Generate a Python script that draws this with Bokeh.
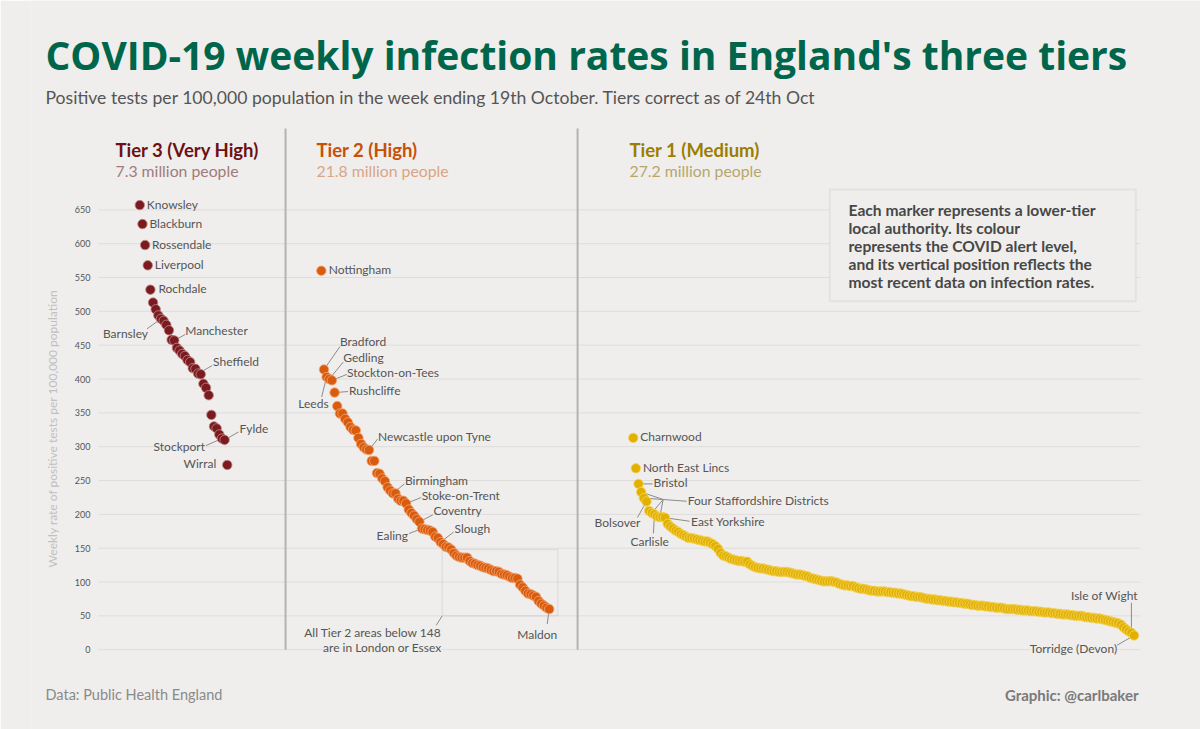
import numpy as np
from math import pi
from bokeh.plotting import figure
from bokeh.models import Label, BoxAnnotation, FixedTicker, Range1d
from bokeh.embed import file_html
from bokeh.resources import INLINE

# ---------------- data ----------------
tier3_values = [657, 629, 598, 568, 532, 513, 503, 494, 489, 486, 480, 472, 458, 457, 446, 442, 437,
                434, 428, 425, 416, 415, 408, 407, 393, 387, 376, 347, 330, 327, 318, 312, 310, 273]
tier2_values = [560, 414, 403, 400, 398, 380, 360, 349, 349, 341, 336, 329, 325, 324, 313, 304, 299,
                296, 295, 279, 279, 261, 260, 253, 249, 240, 235, 231, 231, 223, 220, 220, 216, 207,
                202, 198, 193, 189, 179, 178, 177, 176, 174, 167, 165, 159, 156, 152, 151, 148, 143,
                139, 137, 136, 136, 136, 131, 128, 127, 125, 124, 122, 121, 120, 118, 116, 116, 115,
                112, 111, 110, 108, 106, 106, 105, 96, 92, 87, 83, 82, 80, 78, 72, 68, 65, 62, 60]
tier1_values = [313, 268, 245, 233, 224, 219, 205, 202, 200, 197,
                196, 196, 195, 186, 182, 179, 176, 174, 171, 169,
                167, 165, 165, 164, 163, 162, 161, 160, 160, 158,
                156, 153, 149, 143, 139, 138, 136, 134, 133, 132,
                131, 131, 130, 130, 126, 124, 122, 121, 120, 120,
                119, 118, 117, 116, 116, 115, 115, 115, 115, 114,
                113, 112, 111, 111, 110, 109, 108, 106, 105, 104,
                103, 102, 101, 101, 101, 101, 100, 99, 97, 96,
                95, 95, 94, 94, 92, 91, 90, 90, 89, 88,
                87, 87, 86, 86, 86, 86, 85, 85, 84, 84,
                83, 83, 82, 81, 80, 79, 79, 78, 78, 77,
                76, 75, 75, 74, 74, 73, 73, 72, 72, 71,
                71, 70, 70, 69, 69, 68, 68, 67, 66, 66,
                65, 65, 65, 64, 64, 63, 63, 62, 62, 62,
                61, 60, 60, 60, 60, 59, 59, 58, 58, 58,
                57, 57, 57, 56, 56, 55, 55, 55, 54, 54,
                53, 53, 52, 52, 52, 51, 51, 50, 50, 50,
                49, 48, 48, 47, 47, 46, 46, 45, 44, 43,
                42, 41, 40, 39, 37, 33, 30, 27, 25, 21]
y_ticks = list(range(0, 651, 50))

tier_names = ["Tier 3 (Very High)", "Tier 2 (High)", "Tier 1 (Medium)"]
tier_populations = ["7.3 million people", "21.8 million people", "27.2 million people"]

tier3_label_idx = [0, 1, 2, 3, 4, 8, 13, 22, 32, 31, 33]
tier3_label_names = ["Knowsley", "Blackburn", "Rossendale", "Liverpool", "Rochdale", "Barnsley",
                     "Manchester", "Sheffield", "Fylde", "Stockport", "Wirral"]
tier2_label_idx = [0, 1, 2, 3, 4, 5, 18, 27, 32, 37, 38, 45, 86]
tier2_label_names = ["Nottingham", "Bradford", "Leeds", "Gedling", "Stockton-on-Tees", "Rushcliffe",
                     "Newcastle upon Tyne", "Birmingham", "Stoke-on-Trent", "Coventry", "Ealing",
                     "Slough", "Maldon"]
tier1_label_idx = [0, 1, 2, 5, 12, 8, 188, 189]
tier1_label_names = ["Charnwood", "North East Lincs", "Bristol", "Bolsover", "East Yorkshire",
                     "Carlisle", "Isle of Wight", "Torridge (Devon)"]
staffs_idx = [3, 4, 7, 10]
staffs_name = "Four Staffordshire Districts"
tier2_threshold = 148

# ---------------- layout / style ----------------
BG = "#efeeec"
W, H = 1200, 729
BL = 30                     # left border holding the y axis panel
X_START, X_END = (BL - 139.3) / 2.65, (W - 139.3) / 2.65
Y_END, Y_START = 649.2 / 0.6767, (649.2 - H) / 0.6767
SX = (W - BL) / (X_END - X_START)
SY = H / (Y_END - Y_START)
OFFS = [0.0, 68.5, 186.2]   # x offset of each tier (in point steps)
DIVIDERS = [55.0, 165.2]

FONT = "Lato"
TFONT = "Open Sans"
PT_FILL = ["#7b1b1f", "#d95b0d", "#e2b100"]
PT_LINE = ["#c08a8c", "#f2a775", "#f5d565"]
HEAD_COL = ["#6e1014", "#c65008", "#9c7d00"]
SUB_COL = ["#a27a7c", "#d9a586", "#b7a66c"]
LAB_COL = "#555555"
LEAD_COL = "#8c8c8c"
LAB_SIZE = 12


def X(page_x):
    return X_START + (page_x - BL) / SX


def Y(page_y):
    return Y_END - page_y / SY


def ux(px):
    return px / SX


def uy(px):  # screen px downward -> data units
    return -px / SY


p = figure(width=W, height=H, output_backend="svg", toolbar_location=None,
           x_range=Range1d(X_START, X_END), y_range=Range1d(Y_START, Y_END),
           x_axis_location=None, min_border_left=BL, min_border_right=0,
           min_border_top=0, min_border_bottom=0)
p.background_fill_color = BG
p.border_fill_color = BG
p.outline_line_color = None
p.xgrid.visible = False
p.ygrid.visible = False
p.yaxis.ticker = FixedTicker(ticks=y_ticks)
p.yaxis.fixed_location = X(98)
p.yaxis.axis_line_color = None
p.yaxis.major_tick_line_color = None
p.yaxis.minor_tick_line_color = None
p.yaxis.major_tick_out = 0
p.yaxis.major_tick_in = 0
p.yaxis.major_label_standoff = 8
p.yaxis.major_label_text_font = FONT
p.yaxis.major_label_text_font_size = "9px"
p.yaxis.major_label_text_color = "#555555"

# horizontal gridlines at the y ticks
p.segment(x0=[X(98)] * len(y_ticks), y0=y_ticks, x1=[X(1140)] * len(y_ticks), y1=y_ticks,
          line_color="#dedddb", line_width=1)


def txt(x, y, text, size, color, bold=False, align="left", baseline="middle", bg=None, angle=0,
        font=FONT):
    lab = Label(x=x, y=y, text=text, text_font=font, text_font_size=f"{size}px",
                text_color=color, text_align=align, text_baseline=baseline, angle=angle)
    if bold:
        lab.text_font_style = "bold"
    if bg is not None:
        lab.background_fill_color = bg
        lab.background_fill_alpha = 1.0
    p.add_layout(lab)


# dividers between tiers
p.segment(x0=DIVIDERS, y0=[0, 0], x1=DIVIDERS, y1=[Y(128)] * 2, line_color="#b3b3b3", line_width=2)

values = [tier3_values, tier2_values, tier1_values]
xs = [OFFS[t] + np.arange(len(values[t])) for t in range(3)]

# label specs (dx, dy in screen px from the point; leader end in px)
specs = {
    0: [(7, -1, "left", None), (7, -1, "left", None), (7, -1, "left", None), (7, -1, "left", None),
        (8, -1, "left", None), (-13, 15, "right", (-14, 10)), (11, -10, "left", (11, -6)),
        (15, -12, "left", (14, -8)), (15, -11, "left", (14, -8)), (-17, 8, "right", (-16, 7)),
        (-11, -1, "right", None)],
    1: [(7.5, -1, "left", None), (16, -28, "left", (16, -23)), (2, 26.5, "right", (-5, 20)),
        (14, -22, "left", (14, -17)), (15, -7.5, "left", (15, -6)), (14.5, -2, "left", (13.5, -1)),
        (9, -14, "left", (8.5, -11)), (12, -13, "left", (11.5, -9.5)), (15.5, -8.5, "left", (15, -6)),
        (14, -11.5, "left", (13.5, -7)), (-14, 7, "right", (-13, 5)), (14, -14, "left", (13, -10)),
        (-12, 25, "center", (-2, 15))],
    2: [(7, -1, "left", None), (7, -1, "left", None), (15, -1, "left", (14, 0)),
        (-6, 21, "right", (-9, 16)), (26, 3.5, "left", (24.5, 3.5)), (-24, 27, "left", (-1, 19)),
        (6.5, -37, "right", (0, -30)), (-17, 13.5, "right", (-17.5, 10))],
}
label_idx = [tier3_label_idx, tier2_label_idx, tier1_label_idx]
label_names = [tier3_label_names, tier2_label_names, tier1_label_names]

lx0, ly0, lx1, ly1 = [], [], [], []
text_items = []
for t in range(3):
    for i, name, (dx, dy, al, lead) in zip(label_idx[t], label_names[t], specs[t]):
        px, py = xs[t][i], values[t][i]
        if lead is not None:
            lx0.append(px); ly0.append(py)
            lx1.append(px + ux(lead[0])); ly1.append(py + uy(lead[1]))
        bg = BG if (t == 1 and i == len(values[1]) - 1) or (t == 2 and i == len(values[2]) - 1) else None
        text_items.append((px + ux(dx), py + uy(dy), name, al, bg))

# Four Staffordshire Districts leader group
s0x, s0y = xs[2][staffs_idx[0]], tier1_values[staffs_idx[0]]
jx, jy = s0x + ux(22), s0y + uy(7.5)
for i in staffs_idx:
    lx0.append(xs[2][i]); ly0.append(tier1_values[i]); lx1.append(jx); ly1.append(jy)
lx0.append(jx); ly0.append(jy); lx1.append(s0x + ux(45.5)); ly1.append(s0y + uy(9.2))
text_items.append((s0x + ux(46.6), s0y + uy(8.2), staffs_name, "left", None))

# Tier 2 "below threshold" box
below = [i for i, v in enumerate(tier2_values) if v <= tier2_threshold]
bx0 = xs[1][below[0]] - ux(9)
bx1 = xs[1][below[-1]] + ux(8.6)
box_bottom = 50
p.add_layout(BoxAnnotation(left=bx0, right=bx1, bottom=box_bottom, top=tier2_threshold,
                           fill_alpha=0, line_color="#ababab", line_width=1))
lx0.append(bx0); ly0.append(box_bottom); lx1.append(bx0 + ux(-8.4)); ly1.append(box_bottom + uy(13.3))

p.segment(x0=lx0, y0=ly0, x1=lx1, y1=ly1, line_color=LEAD_COL, line_width=1)

# points
for t in range(3):
    p.scatter(xs[t], values[t], size=9.5, fill_color=PT_FILL[t], line_color=PT_LINE[t], line_width=0.8)

for (x, y, name, al, bg) in text_items:
    txt(x, y, name, LAB_SIZE, LAB_COL, align=al, bg=bg)

txt(bx0 + ux(-0.7), box_bottom + uy(17), f"All Tier 2 areas below {tier2_threshold}", LAB_SIZE, LAB_COL,
    align="right", bg=BG)
txt(bx0 + ux(-0.7), box_bottom + uy(32), "are in London or Essex", LAB_SIZE, LAB_COL, align="right", bg=BG)

# tier headers
head_x = [115, 316, 629]
for t in range(3):
    txt(X(head_x[t]), Y(149), tier_names[t], 18.5, HEAD_COL[t], bold=True)
    txt(X(head_x[t]), Y(170), tier_populations[t], 15.8, SUB_COL[t])

# explanatory box
p.add_layout(BoxAnnotation(left=X(829.3), right=X(1135.3), top=Y(189), bottom=Y(300.7),
                           fill_color=BG, fill_alpha=1, line_color="#c9c8c6", line_width=2))
note = ["Each marker represents a lower-tier", "local authority. Its colour",
        "represents the COVID alert level,", "and its vertical position reflects the",
        "most recent data on infection rates."]
for k, line in enumerate(note):
    txt(X(848), Y(209 + 18.2 * k), line, 15.6, "#474747", bold=True)

# titles & footers
txt(X(45), Y(54), "COVID-19 weekly infection rates in England's three tiers", 39, "#00664b",
    bold=True, font=TFONT)
txt(X(45), Y(97), "Positive tests per 100,000 population in the week ending 19th October. "
    "Tiers correct as of 24th Oct", 17.6, "#555555")
txt(X(52), Y(428), "Weekly rate of positive tests per 100,000 population", 12, "#c0c0c0",
    align="center", angle=pi / 2)
txt(X(45), Y(694), "Data: Public Health England", 14.5, "#8a8a8a")
txt(X(1138), Y(694), "Graphic: @carlbaker", 15, "#7a7a7a", bold=True, align="right")

open("out.html", "w").write(file_html(p, INLINE))
